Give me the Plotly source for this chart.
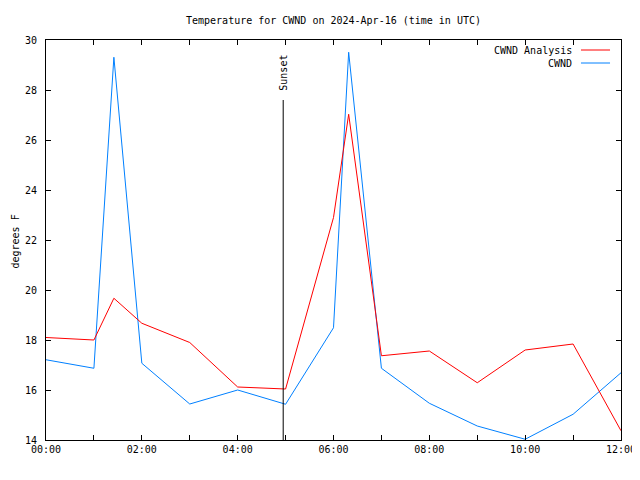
import plotly.graph_objects as go

day = "2024-04-16 "
times = ["00:00", "01:00", "01:25", "02:00", "03:00", "04:00", "05:00", "06:00",
         "06:19", "07:00", "08:00", "09:00", "10:00", "11:00", "12:00"]
analysis = [18.1, 18.0, 19.67, 18.67, 17.9, 16.12, 16.04, 22.9,
            27.03, 17.37, 17.56, 16.29, 17.6, 17.84, 14.37]
cwnd = [17.21, 16.87, 29.31, 17.07, 15.44, 16.0, 15.43, 18.49,
        29.51, 16.87, 15.47, 14.56, 14.03, 15.03, 16.69]
sunset_time = "04:57"
sunset_top = 27.6
x_ticks = ["00:00", "02:00", "04:00", "06:00", "08:00", "10:00", "12:00"]
y_ticks = [14, 16, 18, 20, 22, 24, 26, 28, 30]

x = [day + t for t in times]
FONT = "DejaVu Sans Mono"
RED = "#ff0000"
BLUE = "#0080ff"

fig = go.Figure()
fig.add_trace(go.Scatter(x=x, y=cwnd, mode="lines", name="CWND",
                         line=dict(color=BLUE, width=1)))
fig.add_trace(go.Scatter(x=x, y=analysis, mode="lines", name="CWND Analysis",
                         line=dict(color=RED, width=1)))

# sunset marker
fig.add_shape(type="line", xref="x", yref="y",
              x0=day + sunset_time, x1=day + sunset_time, y0=14, y1=sunset_top,
              line=dict(color="black", width=1))
fig.add_annotation(x=day + sunset_time, y=sunset_top + 0.3, xref="x", yref="y",
                   text="Sunset", textangle=-90, showarrow=False,
                   xanchor="center", yanchor="bottom",
                   font=dict(family=FONT, size=10, color="black"))

# gnuplot-style legend (text then line sample)
legend_items = [("CWND Analysis", RED, 0.975), ("CWND", BLUE, 0.9425)]
for label, color, yp in legend_items:
    fig.add_annotation(x=0.9183, y=yp, xref="paper", yref="paper", text=label,
                       showarrow=False, xanchor="right", yanchor="middle",
                       font=dict(family=FONT, size=10, color="black"))
    fig.add_shape(type="line", xref="paper", yref="paper",
                  x0=0.9304, x1=0.9809, y0=yp, y1=yp,
                  line=dict(color=color, width=1))

# y-axis title, flush with the left edge of the figure
fig.add_annotation(x=-38 / 575, y=0.495, xref="paper", yref="paper",
                   text="degrees F", textangle=-90, showarrow=False,
                   xanchor="left", yanchor="middle", borderpad=0,
                   font=dict(family=FONT, size=10, color="black"))

# page body has an 8px default margin; size the figure so the plot lands
# where the reference has it
fig.update_layout(
    width=632, height=472,
    margin=dict(l=38, r=19, t=32, b=40),
    paper_bgcolor="white", plot_bgcolor="white",
    showlegend=False,
    font=dict(family=FONT, size=10, color="black"),
    title=dict(text="Temperature for CWND on 2024-Apr-16 (time in UTC)",
               x=0.5, xref="paper", xanchor="center",
               y=1 - 12 / 472, yref="container", yanchor="middle",
               font=dict(family=FONT, size=10, color="black")),
    xaxis=dict(
        range=[day + "00:00", day + "12:00"],
        tickvals=[day + t for t in x_ticks], ticktext=x_ticks,
        ticks="inside", ticklen=5, tickcolor="black", tickwidth=1,
        minor=dict(dtick=3600000, ticks="inside", ticklen=5, tickcolor="black"),
        showline=True, linecolor="black", linewidth=1, mirror="allticks",
        showgrid=False, zeroline=False, automargin=False,
        tickfont=dict(family=FONT, size=10, color="black"),
    ),
    yaxis=dict(
        range=[14, 30], tickvals=y_ticks,
        ticks="inside", ticklen=5, tickcolor="black", tickwidth=1,
        showline=True, linecolor="black", linewidth=1, mirror="allticks",
        showgrid=False, zeroline=False, ticklabelstandoff=6, automargin=False,
        tickfont=dict(family=FONT, size=10, color="black"),
    ),
)

fig.write_html("out.html")
